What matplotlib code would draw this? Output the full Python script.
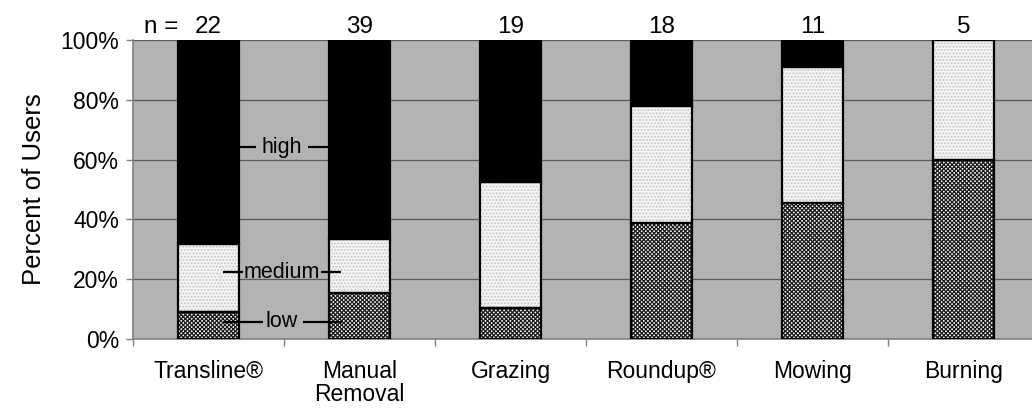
import matplotlib.pyplot as plt
import numpy as np

plt.rcParams['font.family'] = ['Liberation Sans', 'DejaVu Sans']
plt.rcParams['hatch.linewidth'] = 0.9

# data (percent of users)
methods = ["Transline®", "Manual\nRemoval", "Grazing", "Roundup®", "Mowing", "Burning"]
n_users = [22, 39, 19, 18, 11, 5]
low = [9.1, 15.4, 10.5, 38.9, 45.5, 60.0]
medium = [22.7, 17.9, 42.1, 38.9, 45.4, 40.0]
high = [68.2, 66.7, 47.4, 22.2, 9.1, 0.0]

x = np.arange(len(methods))
w = 0.41

fig = plt.figure(figsize=(10.32, 4.08), dpi=100)
ax = fig.add_axes([133 / 1032, 69 / 408, 906 / 1032, 299 / 408])
ax.set_facecolor('#b3b3b3')
ax.set_xlim(-0.5, 5.5)
ax.set_ylim(0, 100)

for yv in [20, 40, 60, 80, 100]:
    ax.axhline(yv, color='#5a5a5a', lw=0.9, zorder=1)

low_b = np.zeros(len(x))
med_b = np.array(low)
high_b = np.array(low) + np.array(medium)

# fills with patterns
ax.bar(x, low, w, bottom=low_b, color='white', edgecolor='#1a1a1a', hatch='xxxxxxxx', lw=0, zorder=2)
ax.bar(x, medium, w, bottom=med_b, color='#f4f4f4', edgecolor='#c4c4c4', hatch='.....', lw=0, zorder=2)
ax.bar(x, high, w, bottom=high_b, color='black', lw=0, zorder=2)
# outlines
for vals, b in [(low, low_b), (medium, med_b), (high, high_b)]:
    ax.bar(x, vals, w, bottom=b, fill=False, edgecolor='black', lw=1.6, zorder=3)

# category labels for the segments
lab_x = 0.487
for txt, yv, l1, l2 in [("high", 64.1, (0.209, 0.315), (0.659, 0.791)),
                        ("medium", 22.4, (0.096, 0.228), (0.745, 0.877)),
                        ("low", 5.8, (0.096, 0.361), (0.626, 0.884))]:
    ax.text(lab_x, yv, txt, ha='center', va='center', fontsize=15.5, zorder=5)
    ax.plot(l1, [yv, yv], color='black', lw=1.6, zorder=5, solid_capstyle='butt')
    ax.plot(l2, [yv, yv], color='black', lw=1.6, zorder=5, solid_capstyle='butt')

# n labels
for xi, nv in zip(x, n_users):
    ax.text(xi, 104.5, str(nv), ha='center', va='center', fontsize=17.5, clip_on=False)
ax.text(-0.427, 104.5, "n =", ha='left', va='center', fontsize=17.5, clip_on=False)

ax.set_yticks([0, 20, 40, 60, 80, 100])
ax.set_yticklabels([f"{v}%" for v in [0, 20, 40, 60, 80, 100]], fontsize=16.5)
ax.set_xticks(x)
ax.set_xticklabels(methods, fontsize=16.5, va='top', linespacing=1.0)
ax.set_xticks(np.arange(-0.5, 6, 1), minor=True)
ax.tick_params(axis='x', which='major', length=0, pad=15)
ax.tick_params(axis='x', which='minor', length=5, color='#808080', width=1)
ax.tick_params(axis='y', length=5, color='#808080', width=1, pad=5)
ax.set_ylabel("Percent of Users", fontsize=18.5, labelpad=10)

for s in ['top', 'right']:
    ax.spines[s].set_visible(False)
for s in ['left', 'bottom']:
    ax.spines[s].set_color('#808080')
    ax.spines[s].set_linewidth(1.2)

fig.savefig('out.png', dpi=100)
